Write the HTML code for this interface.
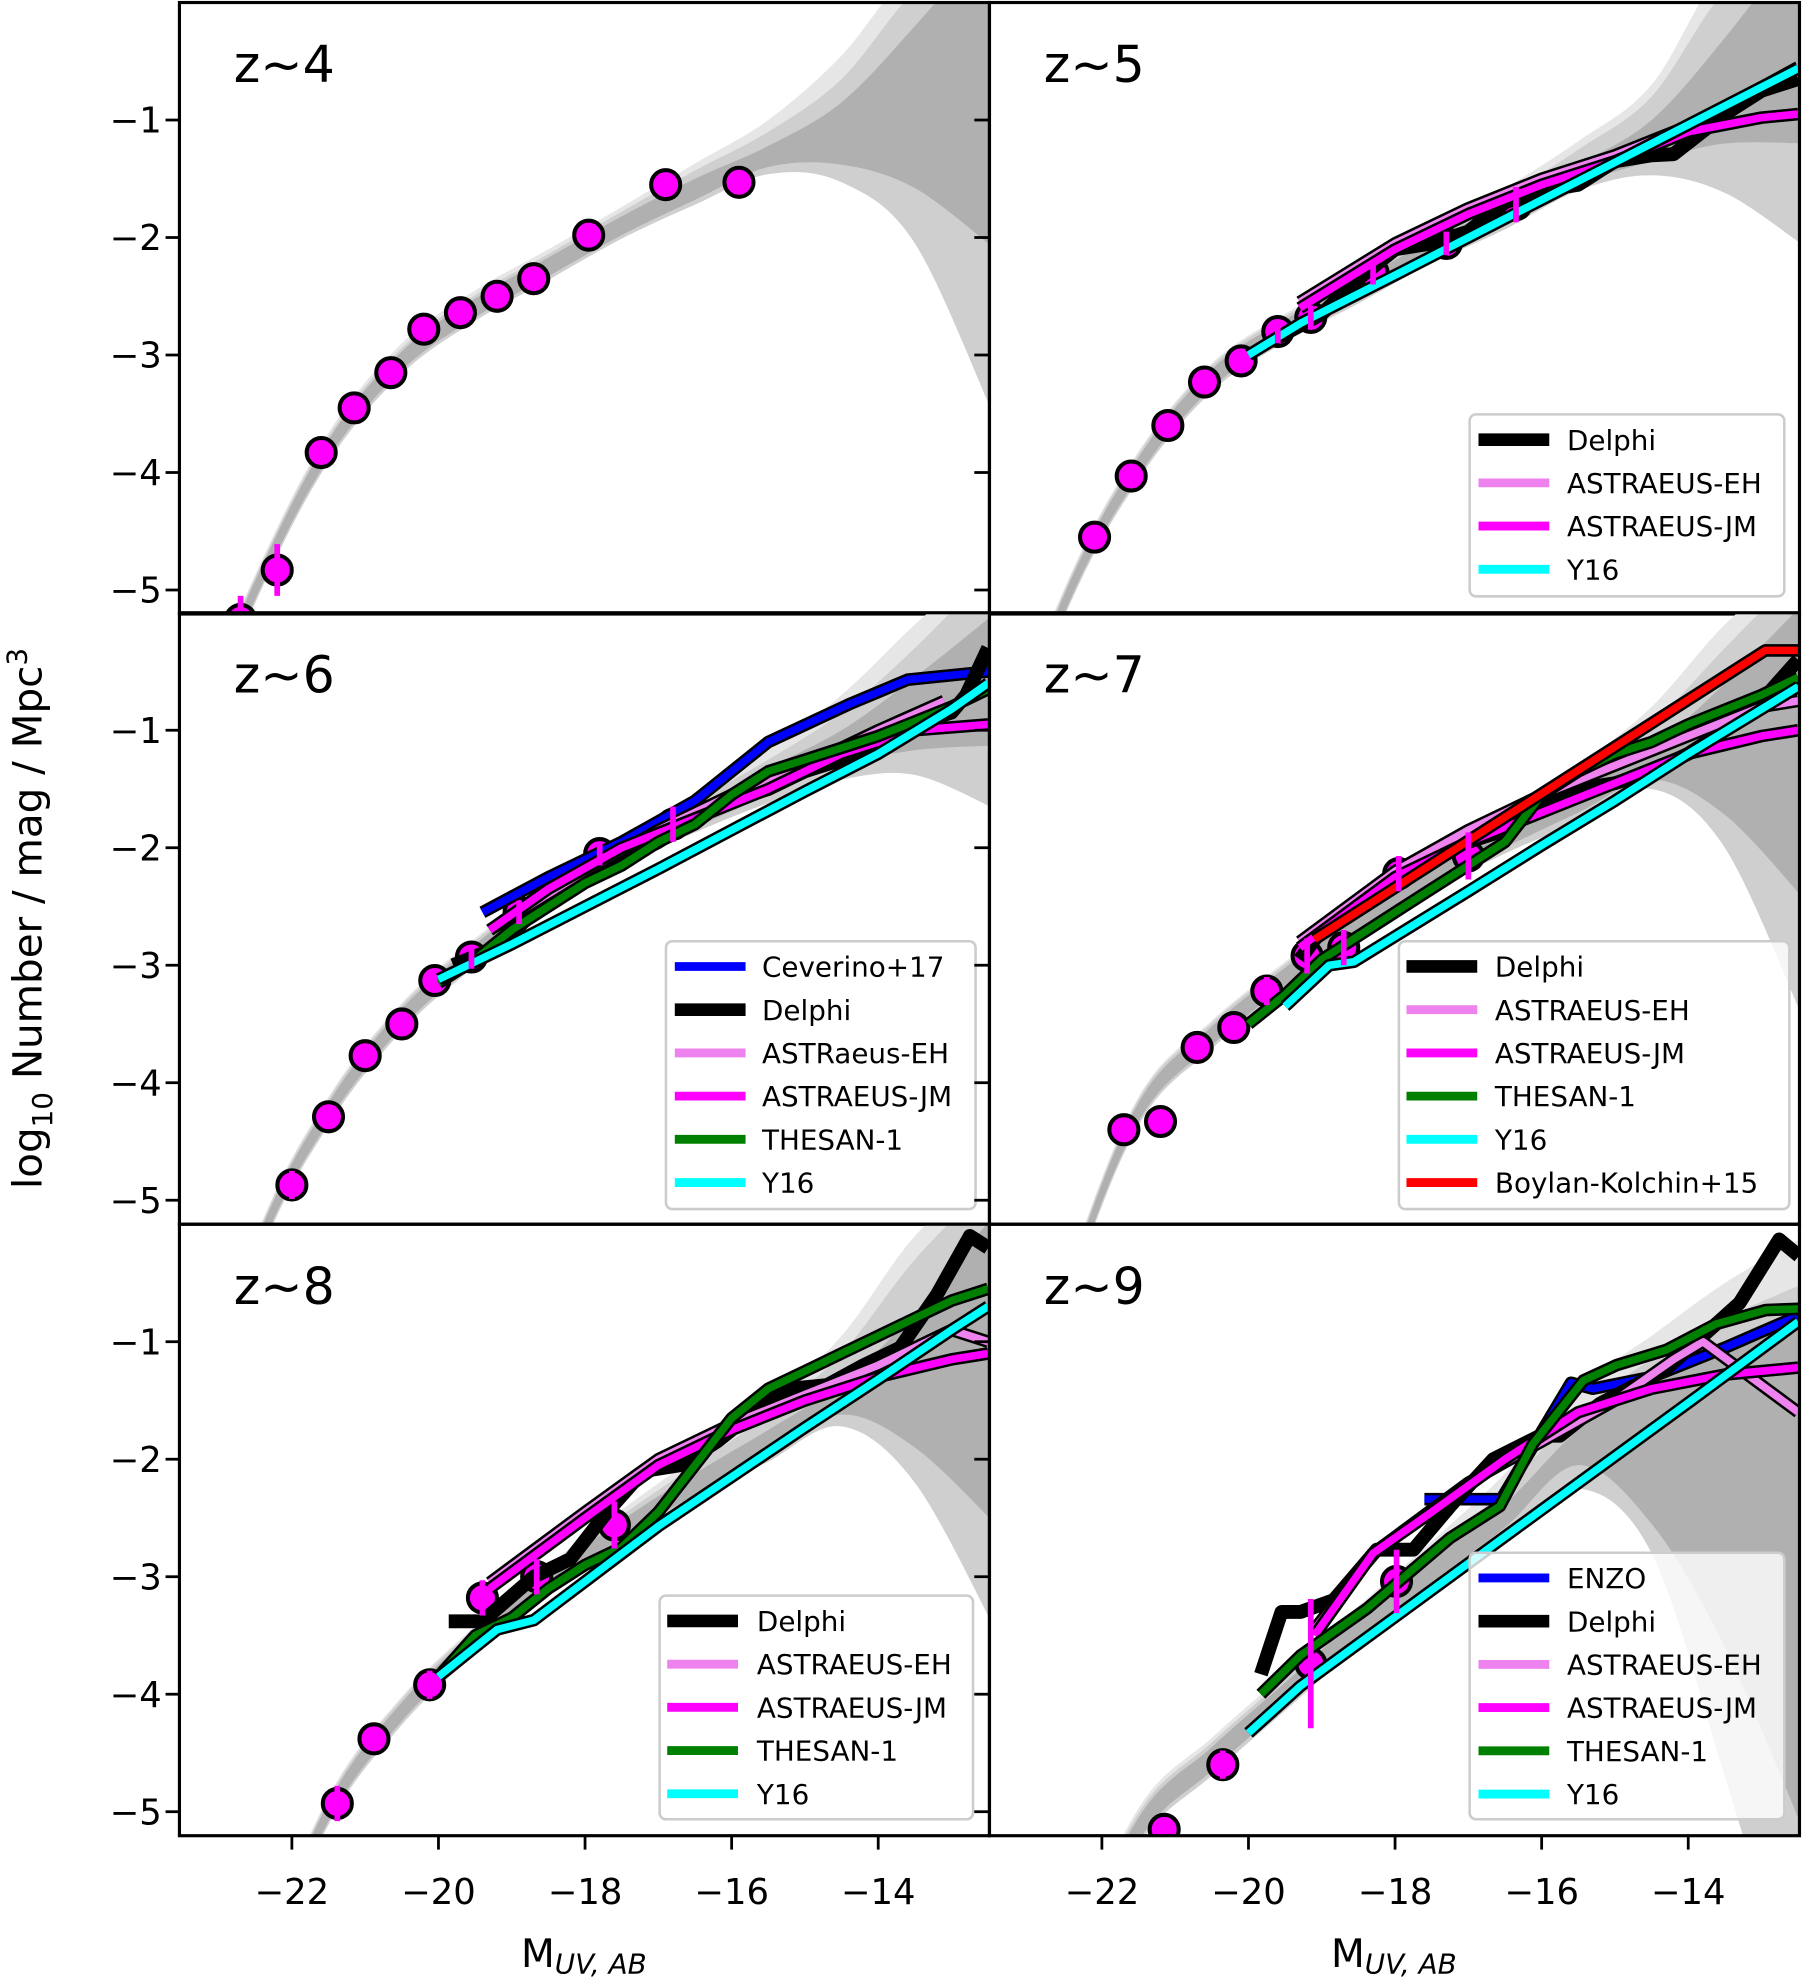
<!DOCTYPE html>
<html><head><meta charset="utf-8"><style>
html,body{margin:0;padding:0;background:#fff;overflow:hidden;}
svg{display:block;font-family:"DejaVu Sans","Liberation Sans",sans-serif;}
</style></head><body>
<svg id="fig" xmlns="http://www.w3.org/2000/svg" width="1802" height="1981" viewBox="0 0 1426 1568" preserveAspectRatio="none">
<defs id="defs"></defs>
<g id="root"></g>
</svg>
<script>
// ---------- band grid (magnitudes) ----------
const G = [-24,-22.5,-21.5,-20.5,-19.5,-18.5,-17.5,-16.5,-15.5,-14.5,-13.5,-12.4];
// z~4 bands
const z4_dHi=[-7.1,-4.92,-3.72,-2.97,-2.52,-2.17,-1.82,-1.5,-1.22,-0.85,-0.2,0.6];
const z4_dLo=[-7.3,-5.08,-3.88,-3.13,-2.68,-2.33,-1.98,-1.68,-1.4,-1.38,-1.58,-2.1];
const z4_mHi=[-7.07,-4.89,-3.69,-2.94,-2.49,-2.14,-1.78,-1.43,-1.1,-0.65,0.1,0.6];
const z4_mLo=[-7.33,-5.11,-3.91,-3.16,-2.71,-2.36,-2.01,-1.72,-1.46,-1.53,-2.05,-3.55];
const z4_lHi=[-7.05,-4.87,-3.66,-2.9,-2.45,-2.1,-1.74,-1.37,-1.0,-0.45,0.3,0.6];
// z~5
const z5_dHi=[-7.4,-5.02,-3.87,-3.12,-2.7,-2.37,-2.02,-1.72,-1.38,-1.0,-0.3,0.6];
const z5_dLo=[-7.6,-5.18,-4.03,-3.28,-2.86,-2.53,-2.18,-1.88,-1.55,-1.35,-1.2,-1.2];
const z5_mHi=[-7.37,-4.99,-3.84,-3.09,-2.67,-2.34,-1.98,-1.65,-1.25,-0.8,0.1,0.6];
const z5_mLo=[-7.63,-5.21,-4.06,-3.31,-2.89,-2.56,-2.22,-1.93,-1.6,-1.47,-1.62,-2.08];
const z5_lHi=[-7.35,-4.97,-3.82,-3.07,-2.65,-2.31,-1.94,-1.58,-1.18,-0.7,0.3,0.6];
// z~6
const z6_dHi=[-8,-5.37,-4.17,-3.37,-2.82,-2.37,-1.97,-1.65,-1.32,-1.0,-0.55,0.0];
const z6_dLo=[-8.2,-5.53,-4.33,-3.53,-2.98,-2.53,-2.13,-1.83,-1.55,-1.3,-1.17,-1.13];
const z6_mHi=[-7.97,-5.34,-4.14,-3.34,-2.79,-2.34,-1.94,-1.6,-1.25,-0.85,-0.3,0.4];
const z6_mLo=[-8.23,-5.56,-4.36,-3.56,-3.01,-2.56,-2.16,-1.87,-1.62,-1.42,-1.38,-1.67];
const z6_lHi=[-7.95,-5.32,-4.12,-3.32,-2.77,-2.32,-1.9,-1.55,-1.15,-0.7,-0.1,0.5];
// z~7
const z7_dHi=[-8.5,-5.72,-4.17,-3.52,-3.02,-2.57,-2.17,-1.82,-1.5,-1.15,-0.6,0.1];
const z7_dLo=[-8.7,-5.88,-4.33,-3.68,-3.18,-2.73,-2.33,-2.0,-1.7,-1.42,-1.72,-2.45];
const z7_mHi=[-8.47,-5.69,-4.14,-3.49,-2.99,-2.54,-2.13,-1.76,-1.4,-0.95,-0.3,0.4];
const z7_mLo=[-8.73,-5.91,-4.36,-3.71,-3.21,-2.76,-2.37,-2.05,-1.78,-1.5,-2.0,-3.5];
const z7_lHi=[-8.45,-5.67,-4.12,-3.47,-2.97,-2.51,-2.09,-1.7,-1.3,-0.8,-0.1,0.5];
// z~8
const z8_dHi=[-9,-6.42,-4.92,-4.07,-3.47,-2.97,-2.52,-2.12,-1.75,-1.35,-0.75,0.1];
const z8_dLo=[-9.2,-6.58,-5.08,-4.23,-3.63,-3.13,-2.68,-2.3,-1.95,-1.62,-1.9,-2.55];
const z8_mHi=[-8.97,-6.39,-4.89,-4.04,-3.44,-2.94,-2.48,-2.05,-1.62,-1.1,-0.3,0.4];
const z8_mLo=[-9.23,-6.61,-5.11,-4.26,-3.66,-3.16,-2.72,-2.36,-2.02,-1.72,-2.2,-3.45];
const z8_lHi=[-8.95,-6.37,-4.87,-4.02,-3.42,-2.9,-2.43,-1.98,-1.52,-0.95,-0.1,0.5];
// z~9
const z9_dHi=[-9.1,-6.45,-5.05,-4.45,-3.9,-3.35,-2.85,-2.38,-1.75,-1.35,-1.05,-0.8];
const z9_dLo=[-9.3,-6.65,-5.25,-4.65,-4.1,-3.55,-3.05,-2.58,-2.05,-2.55,-3.6,-5.2];
const z9_mHi=[-9.06,-6.41,-5.01,-4.41,-3.86,-3.3,-2.78,-2.25,-1.6,-1.15,-0.8,-0.5];
const z9_mLo=[-9.34,-6.69,-5.29,-4.69,-4.14,-3.6,-3.12,-2.68,-2.25,-2.8,-4.7,-7];
const z9_lHi=[-9.02,-6.37,-4.97,-4.37,-3.82,-3.25,-2.7,-2.12,-1.4,-0.95,-0.5,-0.1];

// ---------- observed data points ----------
const z4_ptM=[-22.7,-22.2,-21.6,-21.15,-20.65,-20.2,-19.7,-19.2,-18.7,-17.95,-16.9,-15.9];
const z4_ptV=[-5.25,-4.83,-3.83,-3.45,-3.15,-2.78,-2.64,-2.5,-2.35,-1.98,-1.55,-1.53];
const z4_ptE=[0.2,0.22,0.05,0.05,0.05,0.05,0.05,0.05,0.05,0.05,0.05,0.06];
const z5_ptM=[-22.1,-21.6,-21.1,-20.6,-20.1,-19.6,-19.15,-18.3,-17.3,-16.35];
const z5_ptV=[-4.55,-4.03,-3.6,-3.23,-3.05,-2.8,-2.68,-2.3,-2.05,-1.72];
const z5_ptE=[0.05,0.05,0.05,0.05,0.05,0.1,0.1,0.1,0.1,0.15];
const z6_ptM=[-22,-21.5,-21,-20.5,-20.05,-19.55,-18.9,-17.8,-16.8];
const z6_ptV=[-4.87,-4.29,-3.77,-3.5,-3.13,-2.93,-2.55,-2.05,-1.8];
const z6_ptE=[0.12,0.05,0.05,0.05,0.05,0.1,0.1,0.1,0.15];
const z7_ptM=[-21.7,-21.2,-20.7,-20.2,-19.75,-19.2,-18.7,-17.95,-17.0];
const z7_ptV=[-4.4,-4.33,-3.7,-3.53,-3.22,-2.92,-2.85,-2.22,-2.07];
const z7_ptE=[0.1,0.1,0.05,0.05,0.12,0.15,0.15,0.15,0.2];
const z8_ptM=[-21.38,-20.88,-20.12,-19.4,-18.66,-17.6];
const z8_ptV=[-4.93,-4.38,-3.92,-3.18,-3.0,-2.56];
const z8_ptE=[0.15,0.08,0.12,0.15,0.15,0.2];
const z9_ptM=[-21.15,-20.35,-19.15,-17.98];
const z9_ptV=[-5.15,-4.6,-3.74,-3.04];
const z9_ptE=[0.1,0.12,0.55,0.27];

// ---------- simulation series ----------
const z5_delM=[-19.6,-19,-18.5,-18,-17.5,-17,-16.5,-16,-15.5,-15,-14.5,-14.2,-13.5,-13,-12.5];
const z5_delV=[-2.85,-2.65,-2.35,-2.1,-2.05,-1.95,-1.7,-1.6,-1.55,-1.35,-1.3,-1.29,-0.95,-0.75,-0.65];
const z5_ehM=[-19.3,-18,-17,-16,-15,-14,-13,-12.5];
const z5_ehV=[-2.55,-2.05,-1.75,-1.5,-1.3,-1.05,-0.72,-0.55];
const z5_jmM=[-19.3,-18,-17,-16,-15,-14,-13,-12.5];
const z5_jmV=[-2.6,-2.1,-1.8,-1.55,-1.35,-1.1,-0.98,-0.95];
const z5_yM=[-20,-19.29,-18,-17,-16,-15,-14,-13,-12.5];
const z5_yV=[-3.0,-2.73,-2.32,-2.0,-1.68,-1.36,-1.04,-0.72,-0.56];

const z6_cevM=[-19.4,-18.5,-17.5,-16.5,-15.5,-14.4,-13.6,-12.5];
const z6_cevV=[-2.55,-2.25,-1.95,-1.6,-1.1,-0.78,-0.57,-0.5];
const z6_delM=[-19.8,-19.2,-18.7,-18,-17.5,-17,-16.5,-16,-15.5,-15,-14.5,-14,-13.5,-13,-12.8,-12.5];
const z6_delV=[-3.0,-2.85,-2.55,-2.25,-2.1,-1.95,-1.75,-1.6,-1.5,-1.35,-1.25,-1.1,-0.95,-0.85,-0.7,-0.3];
const z6_ehM=[-19.3,-18,-17,-16,-15,-14,-13.1];
const z6_ehV=[-2.7,-2.2,-1.85,-1.55,-1.3,-1.0,-0.75];
const z6_jmM=[-19.3,-18.5,-17.5,-16.5,-15.5,-14.5,-13.5,-12.5];
const z6_jmV=[-2.7,-2.35,-2.0,-1.75,-1.5,-1.2,-1.0,-0.95];
const z6_thM=[-20,-19.5,-19,-18.5,-18,-17.5,-17,-16.5,-16,-15.5,-15,-14,-13,-12.5];
const z6_thV=[-3.15,-2.95,-2.7,-2.5,-2.3,-2.15,-1.95,-1.8,-1.55,-1.35,-1.25,-1.05,-0.8,-0.65];
const z6_yM=[-20,-19,-18,-17,-16,-15,-14,-13,-12.5];
const z6_yV=[-3.12,-2.82,-2.5,-2.18,-1.85,-1.52,-1.2,-0.82,-0.6];

const z7_delM=[-19.3,-19,-18.5,-18,-17.5,-17,-16.5,-16,-15.5,-15,-14.5,-14,-13.5,-13,-12.5];
const z7_delV=[-2.95,-2.7,-2.5,-2.25,-2.05,-1.95,-1.85,-1.65,-1.5,-1.45,-1.35,-1.2,-1.0,-0.75,-0.4];
const z7_ehM=[-19.3,-18,-17,-16,-15,-14,-13,-12.5];
const z7_ehV=[-2.8,-2.2,-1.85,-1.55,-1.3,-1.05,-0.8,-0.75];
const z7_jmM=[-19.3,-18,-17,-16,-15,-14,-13,-12.5];
const z7_jmV=[-2.85,-2.25,-1.95,-1.7,-1.45,-1.2,-1.05,-1.0];
const z7_thM=[-20,-19.5,-19,-18.5,-18,-17.5,-17,-16.5,-16,-15.5,-15,-14.5,-14,-13,-12.5];
const z7_thV=[-3.5,-3.25,-2.95,-2.75,-2.55,-2.35,-2.15,-1.95,-1.55,-1.35,-1.2,-1.1,-0.95,-0.7,-0.55];
const z7_yM=[-19.5,-18.9,-18.56,-17,-16,-15,-14,-13,-12.5];
const z7_yV=[-3.35,-3.0,-2.97,-2.37,-1.98,-1.6,-1.2,-0.82,-0.63];
const z7_bkM=[-19.1,-12.95,-12.4];
const z7_bkV=[-2.78,-0.32,-0.32];

const z8_delM=[-19.86,-19.4,-18.7,-18.2,-17.7,-17.2,-16.7,-16.2,-15.7,-15.2,-14.7,-14.2,-13.7,-13.2,-12.75,-12.5];
const z8_delV=[-3.38,-3.38,-3.0,-2.85,-2.45,-2.1,-2.05,-1.85,-1.6,-1.4,-1.37,-1.2,-1.05,-0.6,-0.1,-0.2];
const z8_ehM=[-19.3,-18,-17,-16,-15,-14,-13,-12.5];
const z8_ehV=[-3.05,-2.45,-2.0,-1.7,-1.45,-1.2,-0.9,-1.0];
const z8_jmM=[-19.3,-18,-17,-16,-15,-14,-13,-12.5];
const z8_jmV=[-3.1,-2.5,-2.05,-1.75,-1.5,-1.3,-1.15,-1.1];
const z8_thM=[-20,-19.5,-19,-18.5,-18,-17.5,-17,-16.5,-16,-15.5,-15,-14.5,-14,-13.5,-13,-12.5];
const z8_thV=[-3.85,-3.5,-3.35,-3.1,-2.9,-2.75,-2.45,-2.05,-1.65,-1.4,-1.25,-1.1,-0.95,-0.8,-0.65,-0.55];
const z8_yM=[-20,-19.2,-18.7,-17,-16,-15,-14,-13,-12.5];
const z8_yV=[-3.85,-3.45,-3.37,-2.57,-2.15,-1.73,-1.32,-0.9,-0.7];

const z9_enM=[-17.6,-16.55,-15.6,-15.3,-14.5,-13.5,-12.5];
const z9_enV=[-2.34,-2.34,-1.35,-1.4,-1.3,-1.05,-0.78];
const z9_delM=[-19.83,-19.55,-19.29,-18.84,-18.25,-17.75,-17.25,-16.66,-16.02,-15.75,-15.21,-14.3,-13.3,-12.76,-12.49];
const z9_delV=[-3.83,-3.3,-3.3,-3.2,-2.77,-2.77,-2.4,-2.0,-1.8,-1.8,-1.53,-1.23,-0.67,-0.13,-0.27];
const z9_ehM=[-19.1,-18.3,-17,-16,-15,-14.2,-13.8,-12.5];
const z9_ehV=[-3.45,-2.8,-2.2,-1.85,-1.5,-1.15,-1.0,-1.6];
const z9_jmM=[-19.1,-18.3,-17.5,-16.5,-15.5,-14.5,-13.5,-12.5];
const z9_jmV=[-3.5,-2.8,-2.45,-2.0,-1.6,-1.4,-1.28,-1.22];
const z9_thM=[-19.83,-19.29,-18.38,-17.25,-16.57,-16.12,-15.43,-14.98,-14.3,-13.62,-12.94,-12.49];
const z9_thV=[-4.0,-3.67,-3.27,-2.67,-2.4,-1.87,-1.33,-1.2,-1.07,-0.85,-0.73,-0.72];
const z9_yM=[-20,-19.29,-16,-14,-12.5];
const z9_yV=[-4.33,-3.93,-2.43,-1.52,-0.83];

const yTicks=[-1,-2,-3,-4,-5];
const yTickLabels=["\u22121","\u22122","\u22123","\u22124","\u22125"];
const xTicks=[-22,-20,-18,-16,-14];
const xTickLabels=["\u221222","\u221220","\u221218","\u221216","\u221214"];

// ---------- rendering ----------
const NS="http://www.w3.org/2000/svg";
const root=document.getElementById('root');
const defs=document.getElementById('defs');
const MMIN=-23.534, PX_MAG=58, PX_DEX=93, PW=641, PH=484;
const COLS=[142,783], ROWS=[2,485,969];
function mk(tag,attrs,parent){const e=document.createElementNS(NS,tag);for(const k in attrs)e.setAttribute(k,attrs[k]);(parent||root).appendChild(e);return e;}
function sx(M,c){return COLS[c]+(M-MMIN)*PX_MAG;}
function sy(v,r){return ROWS[r]-v*PX_DEX;}
function cr(pts){let d='';for(let i=0;i<pts.length-1;i++){const p0=pts[Math.max(i-1,0)],p1=pts[i],p2=pts[i+1],p3=pts[Math.min(i+2,pts.length-1)];
 const c1x=p1[0]+(p2[0]-p0[0])/6,c1y=p1[1]+(p2[1]-p0[1])/6,c2x=p2[0]-(p3[0]-p1[0])/6,c2y=p2[1]-(p3[1]-p1[1])/6;
 d+=` C${c1x.toFixed(1)},${c1y.toFixed(1)} ${c2x.toFixed(1)},${c2y.toFixed(1)} ${p2[0].toFixed(1)},${p2[1].toFixed(1)}`;}return d;}
function band(hi,lo,c,r,fill,g,name){
 const up=G.map((m,i)=>[sx(m,c),sy(hi[i],r)]);
 const dn=G.map((m,i)=>[sx(m,c),sy(lo[i],r)]).reverse();
 const d='M'+up[0][0]+','+up[0][1]+cr(up)+' L'+dn[0][0]+','+dn[0][1]+cr(dn)+' Z';
 const p=mk('path',{d:d,fill:fill,stroke:'none'},g);
 
 
}
function series(Ms,Vs,c,r,color,g,name,delphi){
 const d=Ms.map((m,i)=>(i?'L':'M')+sx(m,c).toFixed(1)+','+sy(Vs[i],r).toFixed(1)).join(' ');
 const grp=mk('g',{},g);
 
 
 if(delphi){mk('path',{d:d,fill:'none',stroke:'#000','stroke-width':11,'stroke-linejoin':'round'},grp);}
 else{mk('path',{d:d,fill:'none',stroke:'#000','stroke-width':10,'stroke-linejoin':'round'},grp);
      mk('path',{d:d,fill:'none',stroke:color,'stroke-width':6,'stroke-linejoin':'round'},grp);}
}
const panels=[
 {z:4,c:0,r:0,b:[z4_dHi,z4_dLo,z4_mHi,z4_mLo,z4_lHi],p:[z4_ptM,z4_ptV,z4_ptE],s:[],leg:null},
 {z:5,c:1,r:0,b:[z5_dHi,z5_dLo,z5_mHi,z5_mLo,z5_lHi],p:[z5_ptM,z5_ptV,z5_ptE],
  s:[['Delphi',z5_delM,z5_delV,'#000',1],['ASTRAEUS-EH',z5_ehM,z5_ehV,'#ee82ee'],['ASTRAEUS-JM',z5_jmM,z5_jmV,'#ff00ff'],['Y16',z5_yM,z5_yV,'#00ffff']],
  leg:[1163,328,249,144,1170,1240]},
 {z:6,c:0,r:1,b:[z6_dHi,z6_dLo,z6_mHi,z6_mLo,z6_lHi],p:[z6_ptM,z6_ptV,z6_ptE],
  s:[['Ceverino+17',z6_cevM,z6_cevV,'#0000ff'],['Delphi',z6_delM,z6_delV,'#000',1],['ASTRaeus-EH',z6_ehM,z6_ehV,'#ee82ee'],['ASTRAEUS-JM',z6_jmM,z6_jmV,'#ff00ff'],['THESAN-1',z6_thM,z6_thV,'#008000'],['Y16',z6_yM,z6_yV,'#00ffff']],
  leg:[527,745,245,212,534,603]},
 {z:7,c:1,r:1,b:[z7_dHi,z7_dLo,z7_mHi,z7_mLo,z7_lHi],p:[z7_ptM,z7_ptV,z7_ptE],
  s:[['Delphi',z7_delM,z7_delV,'#000',1],['ASTRAEUS-EH',z7_ehM,z7_ehV,'#ee82ee'],['ASTRAEUS-JM',z7_jmM,z7_jmV,'#ff00ff'],['THESAN-1',z7_thM,z7_thV,'#008000'],['Y16',z7_yM,z7_yV,'#00ffff'],['Boylan-Kolchin+15',z7_bkM,z7_bkV,'#ff0000']],
  leg:[1107,745,309,212,1113,1183]},
 {z:8,c:0,r:2,b:[z8_dHi,z8_dLo,z8_mHi,z8_mLo,z8_lHi],p:[z8_ptM,z8_ptV,z8_ptE],
  s:[['Delphi',z8_delM,z8_delV,'#000',1],['ASTRAEUS-EH',z8_ehM,z8_ehV,'#ee82ee'],['ASTRAEUS-JM',z8_jmM,z8_jmV,'#ff00ff'],['THESAN-1',z8_thM,z8_thV,'#008000'],['Y16',z8_yM,z8_yV,'#00ffff']],
  leg:[522,1263,248,177,528,599]},
 {z:9,c:1,r:2,b:[z9_dHi,z9_dLo,z9_mHi,z9_mLo,z9_lHi],p:[z9_ptM,z9_ptV,z9_ptE],
  s:[['ENZO',z9_enM,z9_enV,'#0000ff'],['Delphi',z9_delM,z9_delV,'#000',1],['ASTRAEUS-EH',z9_ehM,z9_ehV,'#ee82ee'],['ASTRAEUS-JM',z9_jmM,z9_jmV,'#ff00ff'],['THESAN-1',z9_thM,z9_thV,'#008000'],['Y16',z9_yM,z9_yV,'#00ffff']],
  leg:[1163,1229,249,211,1170,1240]}
];
panels.forEach(P=>{
 const x0=COLS[P.c], y0=ROWS[P.r];
 const cp=mk('clipPath',{id:'clip'+P.z},defs);
 mk('rect',{x:x0,y:y0,width:PW,height:PH},cp);
 const g=mk('g',{'clip-path':'url(#clip'+P.z+')'});
 
 
 band(P.b[4],P.b[3],P.c,P.r,'#e6e6e6',g,'band-light-z'+P.z);
 band(P.b[2],P.b[3],P.c,P.r,'#cfcfcf',g,'band-mid-z'+P.z);
 band(P.b[0],P.b[1],P.c,P.r,'#b0b0b0',g,'band-dark-z'+P.z);
 const [pm,pv,pe]=P.p;
 pm.forEach((m,i)=>{const ci=mk('circle',{cx:sx(m,P.c),cy:sy(pv[i],P.r),r:11.5,fill:'#ff00ff',stroke:'#000','stroke-width':3.2},g);
  
  });
 P.s.forEach(s=>series(s[1],s[2],P.c,P.r,s[3],g,'line-'+s[0].toLowerCase().replace(/[^a-z0-9]+/g,'-')+'-z'+P.z,s[4]));
 pm.forEach((m,i)=>{const x=sx(m,P.c);const eb=mk('line',{x1:x,x2:x,y1:sy(pv[i]+pe[i],P.r),y2:sy(pv[i]-pe[i],P.r),stroke:'#ff00ff','stroke-width':4.5},g);
  
  });
 if(P.leg){const [lx,ly,lw,lh,sx0,tx]=P.leg;
  const lg=mk('g',{});
  
  
  mk('rect',{x:lx,y:ly,width:lw,height:lh,rx:5,fill:'rgba(255,255,255,0.8)',stroke:'#cccccc','stroke-width':2},lg);
  P.s.forEach((s,i)=>{const yy=ly+20+i*34.2;
   const le=mk('g',{},lg);
   
   
   mk('line',{x1:sx0,x2:sx0+56,y1:yy,y2:yy,stroke:s[3],'stroke-width':s[4]?10:7},le);
   const t=mk('text',{x:tx,y:yy+8,'font-size':22,fill:'#000'},le);t.textContent=s[0];});
 }
 const fr=mk('rect',{x:x0,y:y0,width:PW,height:PH,fill:'none',stroke:'#000','stroke-width':2.5});
 
 
 const tt=mk('text',{x:x0+43,y:y0+63,'font-size':40,fill:'#000'});tt.textContent='z~'+P.z;
 
 
 yTicks.forEach((v,i)=>{const y=sy(v,P.r);
  if(P.c===0){mk('line',{x1:x0-11,x2:x0,y1:y,y2:y,stroke:'#000','stroke-width':2.2});
   const t=mk('text',{x:x0-14,y:y+10,'font-size':28,'text-anchor':'end'});t.textContent=yTickLabels[i];
   
   
   mk('line',{x1:x0+PW-12,x2:x0+PW,y1:y,y2:y,stroke:'#000','stroke-width':2.2});}
 });
 if(P.r===2){xTicks.forEach((m,i)=>{const x=sx(m,P.c);
  mk('line',{x1:x,x2:x,y1:y0+PH,y2:y0+PH+11,stroke:'#000','stroke-width':2.2});
  const t=mk('text',{x:x,y:1507,'font-size':28,'text-anchor':'middle'});t.textContent=xTickLabels[i];
  
  });
  const xl=mk('text',{x:x0+320,y:1557,'font-size':31,'text-anchor':'middle'});
  
  
  xl.innerHTML='M<tspan font-size="22" font-style="italic" dy="5">UV, AB</tspan>';
 }
});
const yl=mk('text',{x:0,y:0,'font-size':32,'text-anchor':'middle',transform:'translate(33,727) rotate(-90)'});


yl.innerHTML='log<tspan font-size="22" dy="8">10</tspan><tspan dy="-8"> Number / mag / Mpc</tspan><tspan font-size="22" dy="-12">3</tspan>';
</script>
</body></html>
